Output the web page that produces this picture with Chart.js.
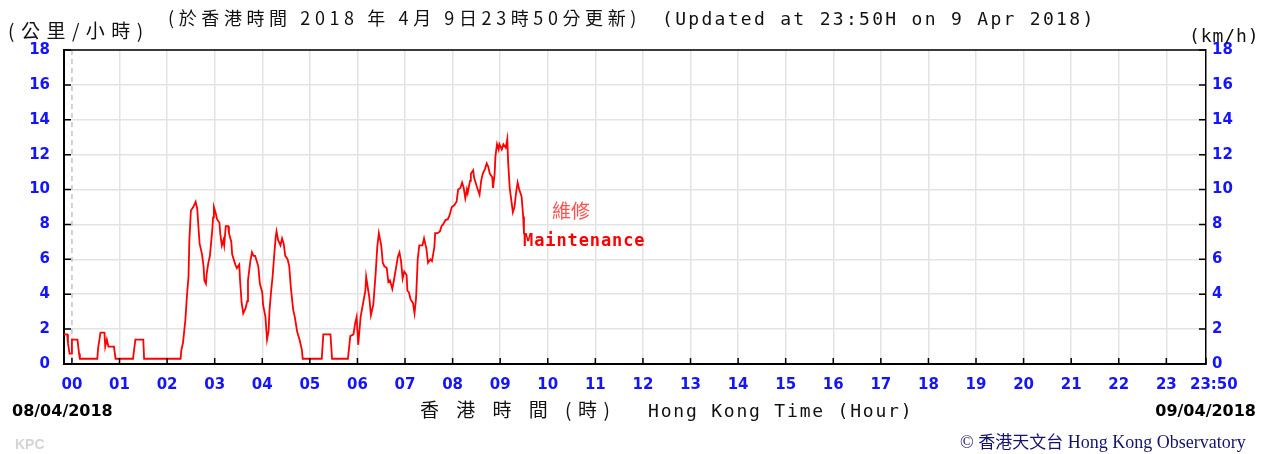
<!DOCTYPE html>
<html>
<head>
<meta charset="utf-8">
<script src="https://cdn.jsdelivr.net/npm/chart.js@4"></script>
<style>
body{margin:0;background:#fff;}
#wrap{position:relative;width:1270px;height:454px;overflow:hidden;background:#fff;}
#wrap canvas{position:absolute;left:0;top:0;}
.t{position:absolute;white-space:pre;line-height:1;}
.cjk{font-family:"Noto Sans CJK TC","Noto Sans CJK SC",sans-serif;color:#111;}
.mono{font-family:"DejaVu Sans Mono",monospace;color:#111;}
.date{font-family:"DejaVu Sans",sans-serif;font-weight:bold;font-size:16px;color:#000;}
</style>
</head>
<body>
<div id="wrap">
  <canvas id="chart-viento" width="1270" height="454"></canvas>
  <div class="t cjk" style="left:8px;top:20px;font-size:19px;letter-spacing:6.5px;">(公里/小時)</div>
  <div class="t cjk" style="left:168px;top:8px;font-size:18px;letter-spacing:4.6px;">(於香港時間 2018 年 4月 9日23時50分更新)</div>
  <div class="t mono" style="left:662px;top:10px;font-size:18px;letter-spacing:2.3px;">(Updated at 23:50H on 9 Apr 2018)</div>
  <div class="t mono" style="left:1189px;top:27px;font-size:18px;letter-spacing:0.9px;">(km/h)</div>
  <div class="t date" style="left:12px;top:403px;">08/04/2018</div>
  <div class="t date" style="right:14px;top:403px;">09/04/2018</div>
  <div class="t cjk" style="left:420px;top:399px;font-size:19px;letter-spacing:6.5px;">香 港 時 間 (時)</div>
  <div class="t mono" style="left:648px;top:402px;font-size:18px;letter-spacing:1.8px;">Hong Kong Time (Hour)</div>
  <div class="t" style="left:15px;top:437px;font-family:'Liberation Sans',sans-serif;font-size:14px;font-weight:bold;color:#d4d4d4;">KPC</div>
  <div class="t" style="left:960px;top:432px;font-size:18px;color:#14146e;"><span style="font-family:'Liberation Serif',serif;">©</span> <span style="font-family:'Noto Sans CJK TC',sans-serif;font-size:17px;">香港天文台</span> <span style="font-family:'Liberation Serif',serif;">Hong Kong Observatory</span></div>
  <div class="t cjk" style="left:552px;top:200px;font-size:19px;color:#ff5050;">維修</div>
  <div class="t mono" style="left:523px;top:232px;font-size:17px;font-weight:bold;letter-spacing:0.9px;color:#ff0000;">Maintenance</div>
</div>
<script>
// minutos desde las 00:00 del 09/04 (-10 = 23:50 del 08/04)
const minutos = [
    -10, -6, -5, -3, -1, 0, 7, 9, 10, 32, 33, 36, 41, 42, 44, 46, 53, 55, 77, 80, 90, 91,
    137, 138, 140, 143, 145, 147, 148, 150, 153, 156, 158, 159, 161, 164, 166, 167, 169, 170,
    172, 174, 177, 178, 179, 181, 183, 186, 187, 189, 191, 192, 194, 197, 198, 201, 202, 206,
    208, 211, 212, 214, 216, 219, 221, 222, 225, 227, 229, 231, 233, 235, 237, 240, 241, 244,
    246, 248, 249, 251, 253, 255, 257, 258, 260, 263, 265, 267, 269, 272, 274, 276, 279, 281,
    284, 287, 290, 291, 315, 316, 317, 326, 328, 348, 351, 355, 357, 359, 361, 364, 366, 368,
    370, 371, 373, 375, 377, 380, 381, 383, 385, 387, 390, 392, 394, 397, 399, 401, 404, 406,
    409, 411, 413, 415, 417, 419, 422, 423, 425, 427, 430, 432, 434, 436, 438, 442, 444, 447,
    449, 452, 454, 457, 458, 461, 464, 466, 468, 471, 474, 476, 479, 482, 485, 487, 490, 492,
    494, 496, 498, 499, 502, 503, 506, 507, 509, 511, 514, 516, 518, 521, 523, 525, 527, 530,
    531, 533, 534, 536, 538, 539, 542, 544, 547, 549, 550, 552, 554, 556, 558, 560, 562, 564,
    567, 569, 570, 572
];
const velocidad = [
    1.7, 1.7, 1.2, 0.6, 0.6, 1.4, 1.4, 0.6, 0.3, 0.3, 0.9, 1.8, 1.8, 1.0, 1.4, 1.0, 1.0, 0.3, 0.3, 1.4, 1.4, 0.3,
    0.3, 0.8, 1.2, 2.5, 3.9, 5.0, 7.0, 8.8, 9.0, 9.3, 8.9, 8.2, 6.9, 6.3, 5.6, 4.8, 4.6, 5.2,
    5.8, 6.2, 7.7, 8.4, 9.0, 8.7, 8.3, 8.1, 7.5, 6.8, 7.1, 6.8, 7.9, 7.9, 7.5, 7.0, 6.3, 5.7,
    5.5, 5.7, 4.8, 3.5, 2.9, 3.2, 3.6, 4.8, 5.9, 6.4, 6.2, 6.2, 5.9, 5.6, 4.6, 4.1, 3.4, 2.7,
    1.4, 1.9, 3.0, 4.1, 5.0, 6.2, 7.3, 7.6, 7.1, 6.8, 7.2, 6.9, 6.2, 6.0, 5.6, 4.4, 3.1, 2.7,
    1.85, 1.4, 0.8, 0.3, 0.3, 1.0, 1.7, 1.7, 0.3, 0.3, 1.6, 1.7, 2.3, 2.7, 1.1, 2.7, 3.2, 3.7,
    4.2, 5.0, 4.4, 3.8, 2.8, 3.4, 4.0, 5.2, 6.7, 7.5, 6.8, 5.8, 5.6, 5.5, 4.7, 4.8, 4.3, 4.8,
    5.6, 6.15, 6.4, 5.9, 4.9, 5.3, 5.1, 4.2, 4.1, 3.7, 3.5, 2.9, 3.8, 6.0, 6.8, 6.8, 7.2, 6.6,
    5.8, 6.0, 5.9, 6.7, 7.5, 7.5, 7.6, 7.9, 8.0, 8.25, 8.3, 8.5, 9.0, 9.1, 9.3, 10.0, 10.1, 10.4,
    10.1, 9.5, 10.0, 9.8, 10.5, 10.9, 11.1, 10.7, 10.4, 10.1, 9.7, 10.5, 10.9, 11.2, 11.5, 11.3, 10.9, 10.7,
    10.1, 10.9, 11.9, 12.6, 12.3, 12.6, 12.3, 12.6, 12.4, 12.9, 11.6, 10.1, 9.4, 8.7, 9.0, 9.8, 10.4, 10.0,
    9.6, 8.45, 7.5, 7.3
];
const horasValor = [0, 60, 120, 180, 240, 300, 360, 420, 480, 540, 600, 660, 720, 780, 840, 900,
    960, 1020, 1080, 1140, 1200, 1260, 1320, 1380, 1430];
const horasEtiqueta = ['00', '01', '02', '03', '04', '05', '06', '07', '08', '09', '10', '11', '12',
    '13', '14', '15', '16', '17', '18', '19', '20', '21', '22', '23', '   23:50'];
const velTicks = [0, 2, 4, 6, 8, 10, 12, 14, 16, 18];

const azul = '#1414ff';
const gris = '#e3e3e3';
const fuenteTick = { family: 'DejaVu Sans', size: 15, weight: 'bold' };

const marco = {
    id: 'marco',
    beforeDatasetsDraw(chart) {
        const { ctx, chartArea: a, scales } = chart;
        const x0 = scales.x.getPixelForValue(0);
        ctx.save();
        ctx.strokeStyle = '#c4c4c4';
        ctx.lineWidth = 1.5;
        ctx.setLineDash([5, 4]);
        ctx.beginPath();
        ctx.moveTo(x0, a.top);
        ctx.lineTo(x0, a.bottom);
        ctx.stroke();
        ctx.restore();
    },
    afterDatasetsDraw(chart) {
        const { ctx, chartArea: a, scales } = chart;
        ctx.save();
        ctx.strokeStyle = '#000';
        ctx.lineWidth = 1.5;
        ctx.beginPath();
        ctx.moveTo(a.left, a.top);
        ctx.lineTo(a.right, a.top);
        ctx.stroke();
        ctx.beginPath();
        scales.y.ticks.forEach(t => {
            const py = scales.y.getPixelForValue(t.value);
            ctx.moveTo(a.left, py); ctx.lineTo(a.left + 7, py);
            ctx.moveTo(a.right, py); ctx.lineTo(a.right - 7, py);
        });
        scales.x.ticks.forEach(t => {
            const px = scales.x.getPixelForValue(t.value);
            ctx.moveTo(px, a.bottom); ctx.lineTo(px, a.bottom - 6);
        });
        ctx.stroke();
        ctx.restore();
    }
};

function cargarGrafico() {
    const ctx = document.getElementById('chart-viento').getContext('2d');
    const puntos = minutos.map((m, i) => ({ x: m, y: velocidad[i] }));

    new Chart(ctx, {
        type: 'line',
        data: {
            datasets: [{
                label: 'km/h',
                data: puntos,
                borderColor: '#ff0000',
                borderWidth: 1.8,
                pointRadius: 0,
                fill: false,
                tension: 0
            }]
        },
        options: {
            responsive: false,
            animation: false,
            events: [],
            layout: { padding: { top: 50, left: 0, right: 0, bottom: 0 } },
            plugins: { legend: { display: false }, tooltip: { enabled: false } },
            scales: {
                x: {
                    type: 'linear', min: -10, max: 1430,
                    afterBuildTicks: s => { s.ticks = horasValor.map(v => ({ value: v })); },
                    afterFit: s => { s.height = 90; },
                    ticks: {
                        autoSkip: false, maxRotation: 0, padding: 12,
                        color: azul, font: fuenteTick,
                        callback: (v, i) => horasEtiqueta[i]
                    },
                    grid: {
                        drawTicks: false, lineWidth: 1.5,
                        color: c => (c.tick && (c.tick.value === 0 || c.tick.value === 1430)) ? 'rgba(0,0,0,0)' : gris
                    },
                    border: { color: '#000', width: 2 }
                },
                y: {
                    position: 'left', min: 0, max: 18,
                    afterBuildTicks: s => { s.ticks = velTicks.map(v => ({ value: v })); },
                    afterFit: s => { s.width = 64; },
                    ticks: { padding: 14, color: azul, font: fuenteTick },
                    grid: { drawTicks: false, lineWidth: 1.5, color: gris },
                    border: { color: '#000', width: 2 }
                },
                y2: {
                    position: 'right', min: 0, max: 18,
                    afterBuildTicks: s => { s.ticks = velTicks.map(v => ({ value: v })); },
                    afterFit: s => { s.width = 64; },
                    ticks: { padding: 6, color: azul, font: fuenteTick },
                    grid: { drawTicks: false, drawOnChartArea: false },
                    border: { color: '#000', width: 1.5 }
                }
            }
        },
        plugins: [marco]
    });
}

cargarGrafico();
</script>
</body>
</html>
